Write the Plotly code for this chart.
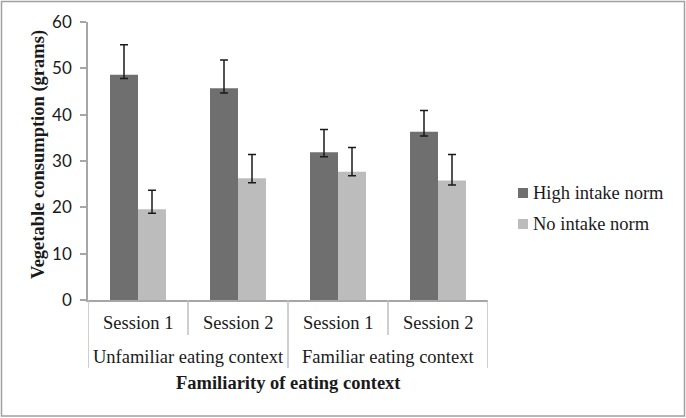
import plotly.graph_objects as go

sessions = ["Session 1", "Session 2", "Session 1", "Session 2"]
contexts = ["Unfamiliar eating context", "Familiar eating context"]
x_pos = [0, 1, 2, 3]

series_names = ["High intake norm", "No intake norm"]
series_colors = ["#6f6f6f", "#bcbcbc"]

high_vals = [48.6, 45.7, 31.9, 36.3]
high_err_plus = [6.5, 6.1, 4.9, 4.6]
high_err_minus = [0.8, 1.0, 1.0, 0.9]

none_vals = [19.6, 26.3, 27.7, 25.8]
none_err_plus = [4.1, 5.1, 5.2, 5.6]
none_err_minus = [0.9, 1.0, 0.9, 1.0]

y_ticks = [0, 10, 20, 30, 40, 50, 60]

serif = "Liberation Serif"
sans = "Lato"
txt = "#1a1a1a"
grid_gray = "#bfbfbf"

# plot area in pixels (for converting layout positions to paper coords)
L, R, T, B = 88, 488, 22, 300
def px(xp):
    return (xp - L) / (R - L)
def py(yp):
    return (B - yp) / (B - T)

fig = go.Figure()
fig.add_trace(go.Bar(
    x=x_pos, y=high_vals, name=series_names[0],
    marker=dict(color=series_colors[0], line=dict(width=0)),
    error_y=dict(type="data", array=high_err_plus, arrayminus=high_err_minus,
                 symmetric=False, color=txt, thickness=1.5, width=4),
))
fig.add_trace(go.Bar(
    x=x_pos, y=none_vals, name=series_names[1],
    marker=dict(color=series_colors[1], line=dict(width=0)),
    error_y=dict(type="data", array=none_err_plus, arrayminus=none_err_minus,
                 symmetric=False, color=txt, thickness=1.5, width=4),
))

fig.update_layout(
    width=686, height=418,
    margin=dict(l=L, r=686 - R, t=T, b=418 - B, autoexpand=False),
    paper_bgcolor="white", plot_bgcolor="white",
    barmode="group", bargap=0.44, bargroupgap=0,
    showlegend=False,
    font=dict(family=serif, color=txt),
)

fig.update_xaxes(
    range=[-0.5, 3.5], showticklabels=False, ticks="",
    showline=True, linecolor="#a6a6a6", linewidth=1.5,
    showgrid=False, zeroline=False, automargin=False,
)
fig.update_yaxes(
    range=[0, 60], tickvals=y_ticks,
    showline=True, linecolor="#a6a6a6", linewidth=1.5,
    ticks="outside", ticklen=6, tickcolor="#a6a6a6", tickwidth=1.5,
    tickfont=dict(family=sans, size=17, color=txt), ticklabelstandoff=5,
    showgrid=False, zeroline=False, automargin=False,
)

# category labels (inner level)
for xi, s in zip(x_pos, sessions):
    fig.add_annotation(x=xi, y=py(323), xref="x", yref="paper", text=s,
                       showarrow=False, xanchor="center", yanchor="middle",
                       font=dict(family=serif, size=18.5, color=txt))
# group labels (outer level)
for gi, c in enumerate(contexts):
    fig.add_annotation(x=2 * gi + 0.5, y=py(357), xref="x", yref="paper", text=c,
                       showarrow=False, xanchor="center", yanchor="middle",
                       font=dict(family=serif, size=18.5, color=txt))

# dividers
for b in [-0.5, 0.5, 1.5, 2.5, 3.5]:
    long = b in (-0.5, 1.5, 3.5)
    fig.add_shape(type="line", xref="x", yref="paper", x0=b, x1=b,
                  y0=0, y1=py(368 if long else 335),
                  line=dict(color=grid_gray, width=1.5))

# axis titles
fig.add_annotation(x=0.5, y=py(383), xref="paper", yref="paper",
                   text="<b>Familiarity of eating context</b>", showarrow=False,
                   xanchor="center", yanchor="middle",
                   font=dict(family=serif, size=18.5, color=txt))
fig.add_annotation(x=px(38), y=py(155), xref="paper", yref="paper",
                   text="<b>Vegetable consumption (grams)</b>", showarrow=False,
                   textangle=-90, xanchor="center", yanchor="middle",
                   font=dict(family=serif, size=18.5, color=txt))

# legend (drawn as layout items)
for i, (name, col) in enumerate(zip(series_names, series_colors)):
    cy = 193 + 31 * i
    fig.add_shape(type="rect", xref="paper", yref="paper",
                  x0=px(518), x1=px(528), y0=py(cy + 5), y1=py(cy - 5),
                  line=dict(width=0), fillcolor=col)
    fig.add_annotation(x=px(531), y=py(cy), xref="paper", yref="paper",
                       text=name, showarrow=False, xanchor="left", yanchor="middle",
                       font=dict(family=serif, size=18.5, color=txt))

# outer chart border
fig.add_shape(type="rect", xref="paper", yref="paper",
              x0=px(1.5), x1=px(684.5), y0=py(416), y1=py(1.5),
              line=dict(color="#a0a0a0", width=1.5), fillcolor="rgba(0,0,0,0)")

fig.write_html("out.html", config={"displayModeBar": False},
               post_script="document.body.style.margin='0';document.body.style.overflow='hidden';")
